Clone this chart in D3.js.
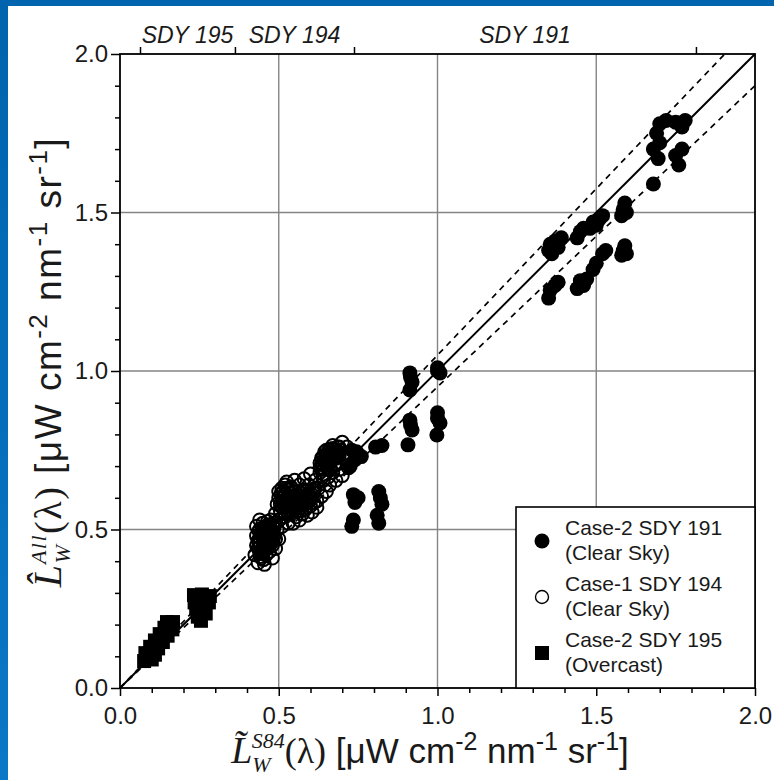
<!DOCTYPE html>
<html>
<head>
<meta charset="utf-8">
<script src="https://cdnjs.cloudflare.com/ajax/libs/d3/7.8.5/d3.min.js"></script>
<style>
  html, body { margin: 0; padding: 0; background: #ffffff; }
  svg { display: block; }
</style>
</head>
<body>
<svg id="chart" width="774" height="780"></svg>
<script>
// Case-2 SDY 191 (clear sky): [S84 estimate, All estimate]
const sdy191 = [
  [1.70,1.78],[1.72,1.79],[1.75,1.785],[1.77,1.77],[1.78,1.79],[1.69,1.75],[1.68,1.70],
  [1.695,1.67],[1.70,1.72],[1.75,1.68],[1.76,1.65],[1.77,1.70],[1.68,1.59],
  [1.58,1.49],[1.585,1.51],[1.59,1.53],[1.595,1.50],[1.58,1.365],[1.585,1.38],[1.59,1.395],[1.595,1.37],
  [1.44,1.42],[1.45,1.44],[1.46,1.45],[1.48,1.45],[1.49,1.47],[1.51,1.48],[1.52,1.49],[1.50,1.46],
  [1.44,1.26],[1.45,1.285],[1.47,1.29],[1.49,1.32],[1.50,1.34],[1.52,1.37],[1.53,1.38],[1.46,1.27],
  [1.35,1.38],[1.355,1.40],[1.37,1.41],[1.39,1.42],[1.38,1.39],[1.36,1.37],
  [1.35,1.23],[1.355,1.255],[1.37,1.27],[1.38,1.28],
  [0.913,0.994],[0.92,0.965],[0.913,0.94],[0.915,0.98],[1.0,1.01],[1.008,0.994],[1.0,1.0],
  [0.913,0.845],[0.92,0.814],[0.907,0.767],[0.915,0.83],[1.0,0.868],[1.008,0.836],[0.998,0.798],[1.0,0.85],
  [0.805,0.76],[0.825,0.765],
  [0.815,0.62],[0.82,0.60],[0.81,0.545],[0.815,0.52],[0.825,0.58],
  [0.735,0.61],[0.75,0.60],[0.74,0.585],[0.735,0.53],[0.73,0.51],
  [0.73,0.75],[0.745,0.745],[0.76,0.73],[0.74,0.72],[0.725,0.70]
];

// Case-1 SDY 194 (clear sky)
const sdy194 = [
  [0.425,0.42],[0.43,0.45],[0.43,0.48],[0.435,0.395],[0.44,0.43],[0.44,0.46],[0.44,0.50],[0.445,0.41],
  [0.45,0.44],[0.45,0.47],[0.45,0.52],[0.455,0.39],[0.455,0.49],[0.46,0.42],[0.46,0.45],[0.43,0.51],[0.44,0.53],
  [0.465,0.48],[0.465,0.51],[0.47,0.43],[0.47,0.46],[0.475,0.50],[0.475,0.53],[0.48,0.41],[0.48,0.45],
  [0.485,0.48],[0.485,0.52],[0.49,0.55],[0.49,0.44],[0.495,0.50],[0.495,0.58],[0.50,0.47],[0.50,0.53],[0.50,0.60],
  [0.505,0.56],[0.51,0.51],[0.51,0.63],[0.515,0.585],[0.52,0.54],[0.52,0.61],[0.525,0.65],[0.53,0.52],
  [0.53,0.57],[0.535,0.60],[0.54,0.55],[0.54,0.63],[0.545,0.52],[0.55,0.58],[0.55,0.655],[0.555,0.54],
  [0.56,0.61],[0.56,0.56],
  [0.565,0.53],[0.565,0.64],[0.57,0.585],[0.575,0.55],[0.58,0.62],[0.58,0.66],[0.585,0.565],[0.59,0.545],
  [0.59,0.60],[0.595,0.64],[0.60,0.575],[0.60,0.675],[0.605,0.555],[0.61,0.615],[0.615,0.655],[0.62,0.59],[0.62,0.57],
  [0.625,0.63],[0.63,0.68],[0.63,0.71],[0.635,0.605],[0.64,0.655],[0.64,0.73],[0.645,0.69],[0.65,0.62],
  [0.65,0.75],[0.655,0.665],[0.66,0.71],[0.66,0.64],
  [0.665,0.74],[0.67,0.68],[0.67,0.765],[0.675,0.705],[0.68,0.655],[0.685,0.735],[0.69,0.76],[0.69,0.69],
  [0.695,0.71],[0.70,0.775],[0.70,0.67],[0.705,0.74],[0.71,0.72],[0.715,0.76],[0.72,0.695],
  [0.435,0.44],[0.44,0.475],[0.445,0.49],[0.45,0.455],[0.455,0.435],[0.455,0.505],[0.46,0.47],[0.46,0.495],
  [0.465,0.44],[0.47,0.475],[0.47,0.50],[0.475,0.455],[0.48,0.49],[0.48,0.515],[0.445,0.425],[0.435,0.465],
  [0.465,0.525],[0.49,0.47],
  [0.505,0.58],[0.51,0.60],[0.515,0.62],[0.52,0.57],[0.525,0.595],[0.53,0.625],[0.535,0.58],[0.54,0.605],
  [0.545,0.59],[0.55,0.62],[0.555,0.60],[0.53,0.55],[0.50,0.62],[0.52,0.64],
  [0.565,0.59],[0.57,0.615],[0.575,0.60],[0.58,0.58],[0.585,0.605],[0.59,0.625],[0.595,0.59],[0.60,0.615],
  [0.605,0.60],[0.61,0.585],[0.615,0.63],[0.57,0.57],
  [0.63,0.695],[0.635,0.725],[0.64,0.705],[0.645,0.745],[0.65,0.72],[0.655,0.69],[0.66,0.735],[0.665,0.755],
  [0.67,0.725],[0.675,0.745],[0.68,0.71],[0.685,0.76],[0.69,0.73],[0.695,0.75],[0.64,0.675],[0.655,0.705],
  [0.44,0.445],[0.45,0.485],[0.46,0.46],[0.47,0.49],[0.475,0.47],[0.45,0.425],[0.485,0.505],[0.46,0.51],
  [0.515,0.60],[0.525,0.575],[0.535,0.615],[0.545,0.575],[0.56,0.595],[0.51,0.57],[0.525,0.63],
  [0.575,0.58],[0.59,0.61],[0.60,0.595],[0.58,0.60],[0.64,0.69],[0.65,0.735],[0.66,0.72],[0.67,0.74],[0.68,0.725],
  [0.438,0.455],[0.443,0.485],[0.448,0.505],[0.452,0.445],[0.457,0.465],[0.462,0.485],[0.467,0.455],[0.472,0.515],
  [0.477,0.485],[0.482,0.465],[0.442,0.415],[0.452,0.405],[0.438,0.495],[0.468,0.495],
  [0.512,0.585],[0.518,0.555],[0.528,0.605],[0.533,0.565],[0.538,0.635],[0.548,0.605],[0.553,0.565],[0.508,0.615],
  [0.568,0.605],[0.578,0.625],[0.588,0.585],[0.598,0.605],[0.608,0.625],[0.572,0.56],
  [0.635,0.705],[0.645,0.715],[0.655,0.745],[0.662,0.695],[0.672,0.755],[0.678,0.735],[0.688,0.745],[0.648,0.735]
];

// Case-2 SDY 195 (overcast)
const sdy195 = [
  [0.076,0.085],[0.10,0.09],[0.08,0.11],[0.11,0.105],[0.095,0.13],[0.12,0.125],[0.11,0.15],
  [0.135,0.145],[0.125,0.17],[0.15,0.165],[0.14,0.19],[0.165,0.185],[0.148,0.208],[0.167,0.208],
  [0.233,0.293],[0.258,0.295],[0.283,0.29],[0.235,0.27],[0.262,0.27],[0.28,0.27],
  [0.24,0.25],[0.265,0.25],[0.245,0.225],[0.255,0.212],[0.27,0.235]
];

const majorTicks = [0, 0.5, 1.0, 1.5, 2.0];
const minorTicks = [0.1,0.2,0.3,0.4,0.6,0.7,0.8,0.9,1.1,1.2,1.3,1.4,1.6,1.7,1.8,1.9];
const gridValues = [0.5, 1.0, 1.5];

// Spans of the three days along the top axis
const dayBounds = [0.063, 0.362, 0.737, 1.814];
const dayNames = ["SDY 195", "SDY 194", "SDY 191"];

const legendLabels = [
  ["Case-2 SDY 191", "(Clear Sky)"],
  ["Case-1 SDY 194", "(Clear Sky)"],
  ["Case-2 SDY 195", "(Overcast)"]
];
const legendSymbols = ["filled", "open", "square"];

// +/- 5 % band around the 1:1 line
const bandFraction = 0.05;

const SANS = "'Liberation Sans', Arial, Helvetica, sans-serif";
const SERIF = "'Liberation Serif', 'Times New Roman', serif";

const svg = d3.select("#chart");

// page frame
svg.append("rect").attr("x", 0).attr("y", 0).attr("width", 774).attr("height", 780).attr("fill", "#ffffff");
const grad = svg.append("defs").append("linearGradient").attr("id", "edge")
  .attr("x1", 0).attr("y1", 0).attr("x2", 0).attr("y2", 1);
grad.append("stop").attr("offset", "0%").attr("stop-color", "#0063ad");
grad.append("stop").attr("offset", "100%").attr("stop-color", "#0a78c6");
svg.append("rect").attr("x", 0).attr("y", 0).attr("width", 8).attr("height", 780).attr("fill", "url(#edge)");
svg.append("rect").attr("x", 0).attr("y", 0).attr("width", 774).attr("height", 6).attr("fill", "#0064af");

const plot = { left: 120, right: 755, top: 54, bottom: 688 };
const x = d3.scaleLinear().domain([0, 2]).range([plot.left, plot.right]);
const y = d3.scaleLinear().domain([0, 2]).range([plot.bottom, plot.top]);

// grid
const grid = svg.append("g").attr("stroke", "#858585").attr("stroke-width", 1.4);
grid.selectAll("line.gx").data(gridValues).join("line").attr("class", "gx")
  .attr("x1", d => x(d)).attr("x2", d => x(d)).attr("y1", y(0)).attr("y2", y(2));
grid.selectAll("line.gy").data(gridValues).join("line").attr("class", "gy")
  .attr("y1", d => y(d)).attr("y2", d => y(d)).attr("x1", x(0)).attr("x2", x(2));

// 1:1 line and the +/-5% band
svg.append("line")
  .attr("x1", x(0)).attr("y1", y(0)).attr("x2", x(2)).attr("y2", y(2))
  .attr("stroke", "#000").attr("stroke-width", 2);
svg.append("line")
  .attr("x1", x(0)).attr("y1", y(0)).attr("x2", x(2 / (1 + bandFraction))).attr("y2", y(2))
  .attr("stroke", "#000").attr("stroke-width", 1.7).attr("stroke-dasharray", "6,5");
svg.append("line")
  .attr("x1", x(0)).attr("y1", y(0)).attr("x2", x(2)).attr("y2", y(2 * (1 - bandFraction)))
  .attr("stroke", "#000").attr("stroke-width", 1.7).attr("stroke-dasharray", "6,5");

// points
svg.append("g").selectAll("circle").data(sdy194).join("circle")
  .attr("cx", d => x(d[0])).attr("cy", d => y(d[1])).attr("r", 6.5)
  .attr("fill", "none").attr("stroke", "#000").attr("stroke-width", 2);
svg.append("g").selectAll("rect").data(sdy195).join("rect")
  .attr("x", d => x(d[0]) - 7).attr("y", d => y(d[1]) - 7).attr("width", 14).attr("height", 14)
  .attr("fill", "#000");
svg.append("g").selectAll("circle").data(sdy191).join("circle")
  .attr("cx", d => x(d[0])).attr("cy", d => y(d[1])).attr("r", 7.5)
  .attr("fill", "#000");

// axes
function styleAxis(g) {
  g.select(".domain").remove();
  g.selectAll(".tick line").attr("stroke", "#000").attr("stroke-width", 1.5);
  g.selectAll(".tick text").attr("font-family", SANS).attr("font-size", 24).attr("fill", "#1a1a1a");
}
svg.append("g").attr("transform", `translate(0,${plot.bottom})`)
  .call(d3.axisBottom(x).tickValues(minorTicks).tickSize(5).tickFormat(""))
  .call(styleAxis);
svg.append("g").attr("transform", `translate(0,${plot.bottom})`)
  .call(d3.axisBottom(x).tickValues(majorTicks).tickSize(8).tickPadding(11).tickFormat(d3.format(".1f")))
  .call(styleAxis);
svg.append("g").attr("transform", `translate(${plot.left},0)`)
  .call(d3.axisLeft(y).tickValues(minorTicks).tickSize(5).tickFormat(""))
  .call(styleAxis);
svg.append("g").attr("transform", `translate(${plot.left},0)`)
  .call(d3.axisLeft(y).tickValues(majorTicks).tickSize(9).tickPadding(3).tickFormat(d3.format(".1f")))
  .call(styleAxis);

// top axis: day spans
const topAxis = svg.append("g").attr("transform", `translate(0,${plot.top})`)
  .call(d3.axisTop(x).tickValues(dayBounds).tickSize(7).tickFormat(""));
topAxis.select(".domain").remove();
topAxis.selectAll(".tick line").attr("stroke", "#000").attr("stroke-width", 1.5);
svg.append("g").selectAll("text").data(dayNames).join("text")
  .attr("x", (d, i) => x((dayBounds[i] + dayBounds[i + 1]) / 2))
  .attr("y", 43)
  .attr("text-anchor", "middle")
  .attr("font-family", SANS).attr("font-style", "italic").attr("font-size", 23).attr("fill", "#1a1a1a")
  .text(d => d);

// plot frame
svg.append("rect").attr("x", plot.left).attr("y", plot.top)
  .attr("width", plot.right - plot.left).attr("height", plot.bottom - plot.top)
  .attr("fill", "none").attr("stroke", "#000").attr("stroke-width", 1.8);

// axis titles
function unitTail(t, size) {
  const small = Math.round(size * 0.7);
  const lift = Math.round(size * 0.38);
  t.append("tspan").attr("font-family", SANS).attr("font-size", size).attr("font-style", "normal").text(" [\u03bcW cm");
  t.append("tspan").attr("font-family", SANS).attr("font-size", small).attr("dy", -lift).text("-2");
  t.append("tspan").attr("font-family", SANS).attr("font-size", size).attr("dy", lift).text(" nm");
  t.append("tspan").attr("font-family", SANS).attr("font-size", small).attr("dy", -lift).text("-1");
  t.append("tspan").attr("font-family", SANS).attr("font-size", size).attr("dy", lift).text(" sr");
  t.append("tspan").attr("font-family", SANS).attr("font-size", small).attr("dy", -lift).text("-1");
  t.append("tspan").attr("font-family", SANS).attr("font-size", size).attr("dy", lift).text("]");
}
function radianceSymbol(t, accent, sup, supBack, size) {
  t.append("tspan").attr("font-family", SERIF).attr("font-style", "italic").attr("font-size", size + 2).text("L" + accent);
  t.append("tspan").attr("font-family", SERIF).attr("font-style", "italic").attr("font-size", 22).attr("dy", 9).text("W");
  t.append("tspan").attr("font-family", SERIF).attr("font-style", "italic").attr("font-size", 22)
    .attr("dx", -supBack).attr("dy", -24).text(sup);
  t.append("tspan").attr("font-family", SERIF).attr("font-style", "normal").attr("font-size", size).attr("dy", 15).text("(\u03bb)");
}
const xTitle = svg.append("text").attr("x", 430).attr("y", 763).attr("text-anchor", "middle").attr("fill", "#1a1a1a");
radianceSymbol(xTitle, "\u0303", "S84", 19, 36);
unitTail(xTitle, 35);

const yTitle = svg.append("text").attr("transform", "translate(61,362) rotate(-90)")
  .attr("text-anchor", "middle").attr("fill", "#1a1a1a").attr("letter-spacing", 1.5);
radianceSymbol(yTitle, "\u0302", "All", 19, 38);
unitTail(yTitle, 37);

// legend
const lg = svg.append("g");
lg.append("rect").attr("x", 516).attr("y", 507).attr("width", plot.right - 516).attr("height", plot.bottom - 507)
  .attr("fill", "#fff").attr("stroke", "#000").attr("stroke-width", 1.6);
const rows = lg.selectAll("g.row").data(legendLabels).join("g").attr("class", "row")
  .attr("transform", (d, i) => `translate(0,${i * 56})`);
rows.each(function(d, i) {
  const g = d3.select(this);
  const kind = legendSymbols[i];
  if (kind === "filled") {
    g.append("circle").attr("cx", 542).attr("cy", 541).attr("r", 7.5).attr("fill", "#000");
  } else if (kind === "open") {
    g.append("circle").attr("cx", 542).attr("cy", 541).attr("r", 6.5).attr("fill", "none")
      .attr("stroke", "#000").attr("stroke-width", 1.4);
  } else {
    g.append("rect").attr("x", 535).attr("y", 534).attr("width", 14).attr("height", 14).attr("fill", "#000");
  }
  g.append("text").attr("x", 565).attr("y", 535)
    .attr("font-family", SANS).attr("font-size", 21).attr("fill", "#1a1a1a").text(d[0]);
  g.append("text").attr("x", 565).attr("y", 560)
    .attr("font-family", SANS).attr("font-size", 21).attr("fill", "#1a1a1a").text(d[1]);
});
</script>
</body>
</html>
